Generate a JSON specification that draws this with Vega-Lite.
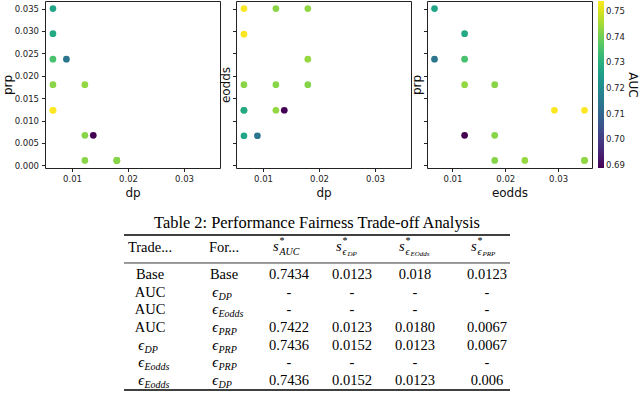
{
  "$schema": "https://vega.github.io/schema/vega-lite/v6.json",
  "background": "white",
  "padding": {"left": 0, "top": 0, "right": 0, "bottom": 0},
  "datasets": {
    "pts": [
      {"dp": 0.0066, "eodds": 0.0066, "prp": 0.035, "AUC": 0.727},
      {"dp": 0.0066, "eodds": 0.0123, "prp": 0.0237, "AUC": 0.735},
      {"dp": 0.0066, "eodds": 0.0123, "prp": 0.0294, "AUC": 0.728},
      {"dp": 0.0090, "eodds": 0.0066, "prp": 0.0237, "AUC": 0.714},
      {"dp": 0.0066, "eodds": 0.018, "prp": 0.018, "AUC": 0.7425},
      {"dp": 0.0123, "eodds": 0.0123, "prp": 0.018, "AUC": 0.7434},
      {"dp": 0.0123, "eodds": 0.018, "prp": 0.0067, "AUC": 0.7422},
      {"dp": 0.0066, "eodds": 0.0293, "prp": 0.0123, "AUC": 0.7535},
      {"dp": 0.0066, "eodds": 0.035, "prp": 0.0123, "AUC": 0.7539},
      {"dp": 0.0138, "eodds": 0.0123, "prp": 0.0067, "AUC": 0.6888},
      {"dp": 0.0123, "eodds": 0.035, "prp": 0.0011, "AUC": 0.7425},
      {"dp": 0.018, "eodds": 0.035, "prp": 0.0011, "AUC": 0.743},
      {"dp": 0.018, "eodds": 0.0237, "prp": 0.0011, "AUC": 0.7436},
      {"dp": 0.018, "eodds": 0.018, "prp": 0.0011, "AUC": 0.742}
    ],
    "cells": [
      {"row": 1, "c": 0, "txt": "Base"},
      {"row": 1, "c": 1, "txt": "Base"},
      {"row": 1, "c": 2, "txt": "0.7434"},
      {"row": 1, "c": 3, "txt": "0.0123"},
      {"row": 1, "c": 4, "txt": "0.018"},
      {"row": 1, "c": 5, "txt": "0.0123"},
      {"row": 2, "c": 0, "txt": "AUC"},
      {"row": 2, "c": 1, "txt": "ϵ", "sub": "DP"},
      {"row": 2, "c": 2, "txt": "-"},
      {"row": 2, "c": 3, "txt": "-"},
      {"row": 2, "c": 4, "txt": "-"},
      {"row": 2, "c": 5, "txt": "-"},
      {"row": 3, "c": 0, "txt": "AUC"},
      {"row": 3, "c": 1, "txt": "ϵ", "sub": "Eodds"},
      {"row": 3, "c": 2, "txt": "-"},
      {"row": 3, "c": 3, "txt": "-"},
      {"row": 3, "c": 4, "txt": "-"},
      {"row": 3, "c": 5, "txt": "-"},
      {"row": 4, "c": 0, "txt": "AUC"},
      {"row": 4, "c": 1, "txt": "ϵ", "sub": "PRP"},
      {"row": 4, "c": 2, "txt": "0.7422"},
      {"row": 4, "c": 3, "txt": "0.0123"},
      {"row": 4, "c": 4, "txt": "0.0180"},
      {"row": 4, "c": 5, "txt": "0.0067"},
      {"row": 5, "c": 0, "txt": "ϵ", "sub": "DP"},
      {"row": 5, "c": 1, "txt": "ϵ", "sub": "PRP"},
      {"row": 5, "c": 2, "txt": "0.7436"},
      {"row": 5, "c": 3, "txt": "0.0152"},
      {"row": 5, "c": 4, "txt": "0.0123"},
      {"row": 5, "c": 5, "txt": "0.0067"},
      {"row": 6, "c": 0, "txt": "ϵ", "sub": "Eodds"},
      {"row": 6, "c": 1, "txt": "ϵ", "sub": "PRP"},
      {"row": 6, "c": 2, "txt": "-"},
      {"row": 6, "c": 3, "txt": "-"},
      {"row": 6, "c": 4, "txt": "-"},
      {"row": 6, "c": 5, "txt": "-"},
      {"row": 7, "c": 0, "txt": "ϵ", "sub": "Eodds"},
      {"row": 7, "c": 1, "txt": "ϵ", "sub": "DP"},
      {"row": 7, "c": 2, "txt": "0.7436"},
      {"row": 7, "c": 3, "txt": "0.0152"},
      {"row": 7, "c": 4, "txt": "0.0123"},
      {"row": 7, "c": 5, "txt": "0.006"}
    ],
    "headPlain": [
      {"c": 0, "txt": "Trade..."},
      {"c": 1, "txt": "For..."}
    ],
    "headMath": [
      {"c": 2, "sub": "AUC", "subsub": ""},
      {"c": 3, "sub": "ϵ", "subsub": "DP"},
      {"c": 4, "sub": "ϵ", "subsub": "EOdds"},
      {"c": 5, "sub": "ϵ", "subsub": "PRP"}
    ]
  },
  "config": {
    "view": {"stroke": "#222", "strokeWidth": 1},
    "axis": {
      "grid": false, "domain": false, "tickColor": "#222", "tickSize": 3.5, "tickWidth": 1,
      "labelFont": "DejaVu Sans", "labelFontSize": 8.5, "labelColor": "#222", "labelPadding": 3,
      "titleFont": "DejaVu Sans", "titleFontSize": 12, "titleFontWeight": "normal", "titleColor": "#111"
    },
    "legend": {
      "orient": "right", "offset": 5, "padding": 0,
      "gradientLength": 167, "gradientThickness": 6, "gradientStrokeWidth": 0,
      "labelFont": "DejaVu Sans", "labelFontSize": 8.5, "labelColor": "#222", "labelOffset": 4,
      "titleOrient": "right", "titleFont": "DejaVu Sans", "titleFontSize": 12, "titleFontWeight": "normal",
      "titleColor": "#111", "titlePadding": 1
    }
  },
  "spacing": 15,
  "vconcat": [
    {
      "spacing": -3,
      "hconcat": [
        {
          "width": 175, "height": 167,
          "data": {"name": "pts"},
          "mark": {"type": "circle", "size": 45, "opacity": 1},
          "encoding": {
            "x": {"field": "dp", "type": "quantitative", "scale": {"domain": [0.00518, 0.03642], "nice": false, "zero": false}, "axis": {"values": [0.01, 0.02, 0.03], "format": ".2f", "title": "dp", "titlePadding": 4}},
            "y": {"field": "prp", "type": "quantitative", "scale": {"domain": [-0.0006, 0.0367], "nice": false, "zero": false}, "axis": {"values": [0, 0.005, 0.01, 0.015, 0.02, 0.025, 0.03, 0.035], "format": ".3f", "title": "prp", "titlePadding": 0}},
            "color": {"field": "AUC", "type": "quantitative", "scale": {"scheme": "viridis", "domain": [0.6888, 0.7539]}, "legend": {"values": [0.69, 0.70, 0.71, 0.72, 0.73, 0.74, 0.75], "format": ".2f", "title": "AUC"}}
          }
        },
        {
          "width": 175, "height": 167,
          "data": {"name": "pts"},
          "mark": {"type": "circle", "size": 45, "opacity": 1},
          "encoding": {
            "x": {"field": "dp", "type": "quantitative", "scale": {"domain": [0.00518, 0.03642], "nice": false, "zero": false}, "axis": {"values": [0.01, 0.02, 0.03], "format": ".2f", "title": "dp", "titlePadding": 4}},
            "y": {"field": "eodds", "type": "quantitative", "scale": {"domain": [-0.0006, 0.0367], "nice": false, "zero": false}, "axis": {"values": [0, 0.005, 0.01, 0.015, 0.02, 0.025, 0.03, 0.035], "labels": false, "title": "eodds", "titlePadding": 0}},
            "color": {"field": "AUC", "type": "quantitative", "scale": {"scheme": "viridis", "domain": [0.6888, 0.7539]}, "legend": {"values": [0.69, 0.70, 0.71, 0.72, 0.73, 0.74, 0.75], "format": ".2f", "title": "AUC"}}
          }
        },
        {
          "width": 165, "height": 167,
          "data": {"name": "pts"},
          "mark": {"type": "circle", "size": 45, "opacity": 1},
          "encoding": {
            "x": {"field": "eodds", "type": "quantitative", "scale": {"domain": [0.00518, 0.03642], "nice": false, "zero": false}, "axis": {"values": [0.01, 0.02, 0.03], "format": ".2f", "title": "eodds", "titlePadding": 4}},
            "y": {"field": "prp", "type": "quantitative", "scale": {"domain": [-0.0006, 0.0367], "nice": false, "zero": false}, "axis": {"values": [0, 0.005, 0.01, 0.015, 0.02, 0.025, 0.03, 0.035], "labels": false, "title": "prp", "titlePadding": 0}},
            "color": {"field": "AUC", "type": "quantitative", "scale": {"scheme": "viridis", "domain": [0.6888, 0.7539]}, "legend": {"values": [0.69, 0.70, 0.71, 0.72, 0.73, 0.74, 0.75], "format": ".2f", "title": "AUC"}}
          }
        }
      ]
    },
    {
      "spacing": 0,
      "hconcat": [
        {
          "width": 78, "height": 10,
          "view": {"stroke": null},
          "data": {"values": []},
          "mark": "point"
        },
        {
          "width": 386, "height": 155,
          "view": {"stroke": null},
          "title": {"text": "Table 2: Performance Fairness Trade-off Analysis", "font": "Liberation Serif", "fontSize": 16.4, "fontWeight": "normal", "color": "black", "offset": 3, "anchor": "middle"},
          "layer": [
            {
              "data": {"values": [{}]},
              "mark": {"type": "rule", "color": "black", "strokeWidth": 1.6},
              "encoding": {"y": {"datum": -1.264, "type": "quantitative", "scale": {"domain": [-1.264, 7.51], "reverse": true, "nice": false, "zero": false}, "axis": null}}
            },
            {
              "data": {"values": [{}]},
              "mark": {"type": "rule", "color": "black", "strokeWidth": 0.8},
              "encoding": {"y": {"datum": 0.32, "type": "quantitative"}}
            },
            {
              "data": {"values": [{}]},
              "mark": {"type": "rule", "color": "black", "strokeWidth": 1.6},
              "encoding": {"y": {"datum": 7.51, "type": "quantitative"}}
            },
            {
              "data": {"name": "cells"},
              "transform": [{"filter": "!datum.sub"}],
              "mark": {"type": "text", "font": "Liberation Serif", "fontSize": 14.5, "color": "black", "baseline": "middle", "align": "center"},
              "encoding": {
                "x": {"field": "c", "type": "quantitative", "scale": {"domain": [0, 1, 2, 3, 4, 5], "range": [26, 100, 165, 228, 291, 363], "nice": false, "zero": false}, "axis": null},
                "y": {"field": "row", "type": "quantitative"},
                "text": {"field": "txt"}
              }
            },
            {
              "data": {"name": "cells"},
              "transform": [{"filter": "datum.sub"}],
              "mark": {"type": "text", "font": "Liberation Serif", "fontStyle": "italic", "fontSize": 14.5, "color": "black", "baseline": "middle", "align": "right", "dx": -6},
              "encoding": {
                "x": {"field": "c", "type": "quantitative"},
                "y": {"field": "row", "type": "quantitative"},
                "text": {"field": "txt"}
              }
            },
            {
              "data": {"name": "cells"},
              "transform": [{"filter": "datum.sub"}],
              "mark": {"type": "text", "font": "Liberation Serif", "fontStyle": "italic", "fontSize": 10, "color": "black", "baseline": "middle", "align": "left", "dx": -5.5, "dy": 4},
              "encoding": {
                "x": {"field": "c", "type": "quantitative"},
                "y": {"field": "row", "type": "quantitative"},
                "text": {"field": "sub"}
              }
            },
            {
              "data": {"name": "headPlain"},
              "mark": {"type": "text", "font": "Liberation Serif", "fontSize": 14.5, "color": "black", "baseline": "middle", "align": "center"},
              "encoding": {
                "x": {"field": "c", "type": "quantitative"},
                "y": {"datum": -0.528, "type": "quantitative"},
                "text": {"field": "txt"}
              }
            },
            {
              "data": {"name": "headMath"},
              "mark": {"type": "text", "font": "Liberation Serif", "fontStyle": "italic", "fontSize": 14.5, "color": "black", "baseline": "middle", "align": "left", "dx": -16, "dy": -1},
              "encoding": {
                "x": {"field": "c", "type": "quantitative"},
                "y": {"datum": -0.528, "type": "quantitative"},
                "text": {"value": "s"}
              }
            },
            {
              "data": {"name": "headMath"},
              "mark": {"type": "text", "font": "Liberation Serif", "fontSize": 10, "color": "black", "baseline": "middle", "align": "left", "dx": -9.5, "dy": -7},
              "encoding": {
                "x": {"field": "c", "type": "quantitative"},
                "y": {"datum": -0.528, "type": "quantitative"},
                "text": {"value": "*"}
              }
            },
            {
              "data": {"name": "headMath"},
              "mark": {"type": "text", "font": "Liberation Serif", "fontStyle": "italic", "fontSize": 10, "color": "black", "baseline": "middle", "align": "left", "dx": -9.5, "dy": 4},
              "encoding": {
                "x": {"field": "c", "type": "quantitative"},
                "y": {"datum": -0.528, "type": "quantitative"},
                "text": {"field": "sub"}
              }
            },
            {
              "data": {"name": "headMath"},
              "mark": {"type": "text", "font": "Liberation Serif", "fontStyle": "italic", "fontSize": 7, "color": "black", "baseline": "middle", "align": "left", "dx": -4.5, "dy": 6},
              "encoding": {
                "x": {"field": "c", "type": "quantitative"},
                "y": {"datum": -0.528, "type": "quantitative"},
                "text": {"field": "subsub"}
              }
            }
          ]
        }
      ]
    }
  ]
}
